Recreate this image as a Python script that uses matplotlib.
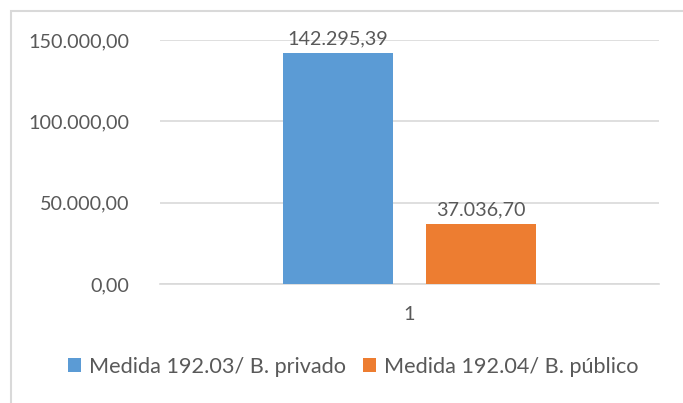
import matplotlib.pyplot as plt
from matplotlib.patches import Rectangle
from matplotlib.ticker import FuncFormatter

plt.rcParams['font.family'] = ['Lato', 'DejaVu Sans']

categorias = ["1"]
series = ["Medida 192.03/ B. privado", "Medida 192.04/ B. público"]
valores = [142295.39, 37036.70]
colores = ["#5B9BD5", "#ED7D31"]
ticks_y = [0, 50000, 100000, 150000]

texto = "#595959"
rejilla = "#D9D9D9"


def formato_es(v, pos=None):
    s = f"{v:,.2f}"
    return s.replace(",", "X").replace(".", ",").replace("X", ".")


fig = plt.figure(figsize=(6.83, 4.03), dpi=100)
# marco del gráfico
fig.patches.append(Rectangle((11 / 683, -0.1), 1.2, 1 - 11 / 403 + 0.1,
                             transform=fig.transFigure, fill=False,
                             edgecolor=rejilla, linewidth=1.5))

ax = fig.add_axes([160 / 683, 1 - 284 / 403, 499 / 683, 244 / 403])
ancho = 0.2204
desplaz = [-0.1433, 0.1433]
for nombre, v, c, d in zip(series, valores, colores, desplaz):
    ax.bar(d, v, width=ancho, color=c, label=nombre, zorder=3)
    ax.text(d, v + 3000, formato_es(v), ha="center", va="bottom",
            fontsize=14.2, color=texto)

ax.set_xlim(-0.5, 0.5)
ax.set_ylim(0, 150000)
ax.set_yticks(ticks_y)
ax.yaxis.set_major_formatter(FuncFormatter(formato_es))
ax.set_xticks([0])
ax.set_xticklabels(categorias)
ax.grid(axis="y", color=rejilla, linewidth=1.2, zorder=0)
for lado in ["top", "right", "left"]:
    ax.spines[lado].set_visible(False)
ax.spines["bottom"].set_color(rejilla)
ax.spines["bottom"].set_linewidth(1.2)
ax.tick_params(axis="both", length=0, labelsize=14.2, labelcolor=texto)
ax.tick_params(axis="y", pad=22)
ax.tick_params(axis="x", pad=16)

fig.legend(loc="center", bbox_to_anchor=(353 / 683, 1 - 367 / 403), ncol=2,
           frameon=False, fontsize=15.6, labelcolor=texto, handlelength=0.62,
           handleheight=0.62, handletextpad=0.35, columnspacing=0.8)

fig.savefig("out.png", dpi=100)
